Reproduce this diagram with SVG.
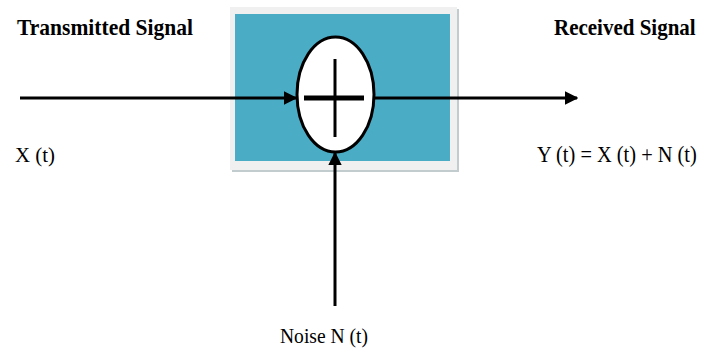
<svg xmlns="http://www.w3.org/2000/svg" width="702" height="349" viewBox="0 0 702 349">
<style>
.lbl{font-family:"Liberation Serif","Times New Roman",serif;fill:#000}
.b{font-weight:bold}
.conn{stroke:#000;stroke-width:3;fill:none}
</style>
<defs>
<marker id="ah" viewBox="0 0 10 10" refX="9" refY="5" markerWidth="4.5" markerHeight="4.5" orient="auto" markerUnits="strokeWidth">
<path d="M0,0 L10,5 L0,10 z" fill="#000"/>
</marker>
</defs>
<rect width="702" height="349" fill="#fff"/>
<g id="box">
<rect x="232" y="9" width="227" height="163" fill="#9aa8ae" opacity="0.6"/>
<rect x="230" y="7" width="227" height="163" fill="#f0f0f0"/>
<rect x="235" y="14" width="215" height="147" fill="#4BACC6"/>
</g>
<g id="adder">
<ellipse cx="335.5" cy="94.5" rx="38.5" ry="57.5" fill="#fff" stroke="#000" stroke-width="3"/>
<line x1="304" y1="98" x2="364" y2="98" stroke="#000" stroke-width="5"/>
<line x1="335" y1="59" x2="335" y2="137" stroke="#000" stroke-width="3"/>
</g>
<g id="connectors">
<line class="conn" x1="20" y1="98" x2="296" y2="98" marker-end="url(#ah)"/>
<line class="conn" x1="374" y1="98" x2="577" y2="98" marker-end="url(#ah)"/>
<line class="conn" x1="335" y1="306" x2="335" y2="153" marker-end="url(#ah)"/>
</g>
<g id="labels">
<text class="lbl b" x="17" y="35" font-size="24" textLength="176" lengthAdjust="spacingAndGlyphs">Transmitted Signal</text>
<text class="lbl b" transform="translate(554,35) scale(1,1.12)" x="0" y="0" font-size="21">Received Signal</text>
<text class="lbl" x="15" y="162" font-size="22" textLength="40" lengthAdjust="spacingAndGlyphs">X (t)</text>
<text class="lbl" transform="translate(537,162) scale(1,1.08)" x="0" y="0" font-size="20.4">Y (t) = X (t) + N (t)</text>
<text class="lbl" x="280" y="343" font-size="22" textLength="88" lengthAdjust="spacingAndGlyphs">Noise N (t)</text>
</g>
</svg>
